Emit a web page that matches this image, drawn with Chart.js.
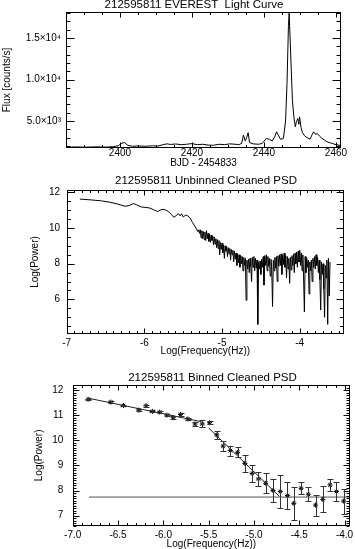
<!DOCTYPE html>
<html>
<head>
<meta charset="utf-8">
<script src="https://cdn.jsdelivr.net/npm/chart.js@4.4.1/dist/chart.umd.min.js"></script>
<style>
  html, body { margin: 0; padding: 0; background: #fff; overflow: hidden; width: 355px; height: 549px; }
  canvas { position: absolute; left: 0; }
</style>
</head>
<body>
<canvas id="lightCurve" width="355" height="171" style="top:0px"></canvas>
<canvas id="psdRaw" width="355" height="191" style="top:170px"></canvas>
<canvas id="psdBinned" width="355" height="184" style="top:365px"></canvas>
<script>
// ---- light curve ----
const lcTime = [2385, 2386.5, 2388, 2390, 2392, 2394, 2396, 2398, 2399.5, 2400.5, 2401.3, 2402.2, 2403.5, 2405, 2407, 2409,
  2410.5, 2412, 2413, 2414, 2415.5, 2417, 2418.5, 2420, 2421.5, 2423, 2424.5, 2426, 2427.5, 2429, 2430.5, 2432, 2433,
  2433.8, 2434.3, 2434.8, 2435.2, 2435.6, 2436, 2437, 2438.5, 2439.5, 2440.7, 2441.5, 2442.3, 2443, 2443.5, 2444, 2444.6,
  2445.4, 2446, 2446.4, 2446.8, 2447.0, 2447.3, 2447.6, 2447.9, 2448.3, 2448.7, 2449.0, 2449.4, 2449.7, 2449.9, 2450.3,
  2450.7, 2451.3, 2452, 2452.8, 2453.3, 2453.8, 2454.3, 2454.8, 2455.4, 2456, 2456.8, 2457.5, 2458.2, 2459, 2460, 2461.4];
const lcFlux = [1900, 1860, 1880, 1850, 1870, 1890, 1860, 1900, 2020, 2330, 2400, 2060, 1960, 1990, 1960, 2010,
  1980, 2150, 2250, 2180, 2230, 2150, 2200, 2280, 2150, 2200, 2100, 2080, 2200, 2150, 2250, 2200, 2150,
  2300, 3300, 2600, 3000, 3600, 2400, 2250, 2200, 2300, 2900, 2800, 2600, 3100, 3700, 3300, 2800,
  2900, 5000, 9500, 16500, 18000, 14500, 11000, 7500, 5500, 4300, 4900, 5300, 4600, 5500, 4200,
  3600, 3200, 3000, 2800, 3300, 3700, 3400, 3500, 3200, 2950, 2700, 2500, 2400, 2300, 2150, 2050];
const lcXTicks = [2400, 2420, 2440, 2460];
const lcXLabels = ['2400', '2420', '2440', '2460'];
const lcYTicks = [5000, 10000, 15000];
const lcYLabels = ['5.0\u00d710\u00b3', '1.0\u00d710\u2074', '1.5\u00d710\u2074'];

// ---- unbinned PSD ----
const psdFreq = [-6.83, -6.70, -6.55, -6.45, -6.35, -6.25, -6.20, -6.14, -6.10, -6.04, -5.98, -5.93, -5.88, -5.83, -5.80,
  -5.76, -5.72, -5.68, -5.65, -5.62, -5.59, -5.56, -5.54, -5.52, -5.50, -5.47, -5.44, -5.41, -5.38, -5.35, -5.33, -5.31, -5.30,
  -5.29, -5.28, -5.27, -5.26, -5.25, -5.24, -5.23, -5.22, -5.21, -5.20, -5.19, -5.18, -5.17, -5.16, -5.15, -5.14, -5.13, -5.12,
  -5.11, -5.10, -5.09, -5.08, -5.07, -5.06, -5.05, -5.04, -5.03, -5.02, -5.01, -5.00, -4.99, -4.98, -4.97, -4.96, -4.95, -4.94,
  -4.93, -4.92, -4.91, -4.90, -4.89, -4.88, -4.87, -4.86, -4.85, -4.84, -4.83, -4.82, -4.81, -4.80, -4.79, -4.78, -4.77, -4.76,
  -4.75, -4.74, -4.73, -4.72, -4.71, -4.70, -4.69, -4.68, -4.67, -4.66, -4.65, -4.64, -4.63, -4.62, -4.61, -4.60, -4.59, -4.58,
  -4.57, -4.56, -4.55, -4.54, -4.53, -4.52, -4.51, -4.50, -4.49, -4.48, -4.47, -4.46, -4.45, -4.44, -4.43, -4.42, -4.41, -4.40,
  -4.39, -4.38, -4.37, -4.36, -4.35, -4.34, -4.33, -4.32, -4.31, -4.30, -4.29, -4.28, -4.27, -4.26, -4.25, -4.24, -4.23, -4.22,
  -4.21, -4.20, -4.19, -4.18, -4.17, -4.16, -4.15, -4.14, -4.13, -4.12, -4.11, -4.10, -4.09, -4.08, -4.07, -4.06, -4.05, -4.04,
  -4.03, -4.02, -4.01, -4.00, -3.99, -3.98, -3.97, -3.96, -3.95, -3.94, -3.93, -3.92, -3.91, -3.90, -3.89, -3.88, -3.87, -3.86,
  -3.85, -3.84, -3.83, -3.82, -3.81, -3.80, -3.79, -3.78, -3.77, -3.76, -3.75, -3.74, -3.73, -3.72, -3.71, -3.70, -3.69, -3.68,
  -3.67, -3.66, -3.65, -3.64, -3.63, -3.62, -3.61];
const psdPower = [11.62, 11.58, 11.52, 11.45, 11.35, 11.22, 11.25, 11.37, 11.30, 11.18, 11.15, 11.12, 11.02, 10.92, 11.00,
  11.05, 11.00, 10.88, 10.75, 10.60, 10.70, 10.80, 10.68, 10.80, 10.62, 10.72, 10.68, 10.55, 10.30, 10.10, 9.95, 9.80, 9.90,
  9.70, 9.90, 9.45, 9.85, 9.40, 9.80, 9.35, 9.78, 9.30, 9.85, 9.40, 9.70, 9.25, 9.65, 9.20, 9.60, 9.30, 9.55,
  9.05, 9.50, 9.10, 9.40, 8.90, 9.35, 8.85, 9.30, 8.50, 9.20, 8.80, 9.15, 8.60, 9.05, 8.30, 9.00, 8.70, 8.95,
  8.40, 8.90, 8.55, 8.85, 8.20, 8.80, 8.50, 8.75, 8.10, 8.70, 8.25, 8.60, 7.90, 8.55, 8.05, 8.50, 7.80, 8.45,
  8.00, 8.40, 7.60, 8.35, 7.90, 8.30, 5.95, 8.20, 7.70, 8.25, 7.50, 8.30, 7.85, 7.00, 8.35, 7.80, 8.40, 7.60,
  8.30, 7.75, 8.20, 4.60, 8.10, 7.70, 8.15, 7.40, 8.25, 7.80, 8.40, 6.80, 8.45, 7.90, 8.50, 7.60, 8.40, 7.85,
  8.30, 7.30, 8.25, 7.70, 5.60, 8.20, 7.60, 8.35, 7.75, 8.40, 7.00, 8.45, 7.85, 8.50, 7.90, 8.55, 7.40, 8.50,
  7.95, 8.60, 7.80, 8.45, 7.20, 8.40, 7.70, 8.30, 6.90, 8.35, 7.65, 8.45, 7.90, 8.55, 7.50, 8.60, 8.00, 8.65,
  7.80, 8.70, 8.10, 8.75, 7.90, 8.60, 7.60, 8.50, 7.20, 5.30, 8.40, 7.50, 8.30, 7.80, 8.20, 6.30, 8.10, 7.60,
  8.20, 7.00, 8.30, 7.80, 8.40, 7.70, 8.50, 7.90, 8.35, 7.50, 8.20, 7.10, 5.40, 8.10, 7.40, 8.00, 6.60, 5.00,
  7.90, 7.20, 8.20, 4.60, 8.30, 6.20, 8.10];
const psdXTicks = [-7, -6, -5, -4];
const psdXLabels = ['-7', '-6', '-5', '-4'];
const psdYTicks = [6, 8, 10, 12];
const psdYLabels = ['6', '8', '10', '12'];

// ---- binned PSD ----
const binFreq = [-6.83, -6.58, -6.44, -6.27, -6.19, -6.12, -6.04, -5.96, -5.89, -5.81, -5.73, -5.65, -5.57, -5.49, -5.41,
  -5.34, -5.26, -5.18, -5.10, -5.02, -4.95, -4.87, -4.79, -4.71, -4.63, -4.56, -4.48, -4.40, -4.32, -4.24, -4.16, -4.09, -4.01];
const binPower = [11.63, 11.52, 11.38, 11.20, 11.38, 11.15, 11.12, 11.00, 10.90, 11.03, 10.85, 10.65, 10.65, 10.70, 10.21,
  9.77, 9.59, 9.52, 9.08, 8.68, 8.46, 8.29, 8.00, 7.96, 7.80, 7.49, 8.09, 7.85, 7.42, 7.65, 8.22, 7.96, 7.58];
const binErr = [0.03, 0.03, 0.03, 0.04, 0.04, 0.04, 0.04, 0.05, 0.05, 0.05, 0.05, 0.07, 0.14, 0.07, 0.16,
  0.20, 0.20, 0.20, 0.35, 0.35, 0.28, 0.40, 0.45, 0.65, 0.55, 0.65, 0.23, 0.28, 0.42, 0.52, 0.22, 0.38, 0.50];
const fitLowFreq = [-6.82, -5.58];
const fitLowPower = [11.67, 10.74];
const fitHighFreq = [-5.50, -4.72];
const fitHighPower = [10.49, 7.77];
const noiseFreq = [-6.82, -3.94];
const noisePower = [7.74, 7.74];
const binXTicks = [-7.0, -6.5, -6.0, -5.5, -5.0, -4.5, -4.0];
const binXLabels = ['-7.0', '-6.5', '-6.0', '-5.5', '-5.0', '-4.5', '-4.0'];
const binYTicks = [7, 8, 9, 10, 11, 12];
const binYLabels = ['7', '8', '9', '10', '11', '12'];

Chart.defaults.font.family = '"Liberation Sans", Arial, Helvetica, sans-serif';
Chart.defaults.font.size = 10;
Chart.defaults.font.lineHeight = 1;
Chart.defaults.color = '#000';

const pts = (xs, ys) => xs.map((x, i) => ({ x: x, y: ys[i] }));

// box with inward ticks on all four sides, plus the panel title
const frame = {
  id: 'frame',
  afterDatasetsDraw(chart, args, o) {
    const { ctx, chartArea: a, scales: { x, y } } = chart;
    ctx.save();
    ctx.strokeStyle = '#000';
    ctx.lineWidth = 1;
    const L = Math.round(a.left) + 0.5, R = Math.round(a.right) - 0.5;
    const T = Math.round(a.top) + 0.5, B = Math.round(a.bottom) - 0.5;
    ctx.strokeRect(L, T, R - L, B - T);
    ctx.beginPath();
    const marks = (scale, minor, major, draw) => {
      const k0 = Math.ceil(scale.min / minor - 1e-6), k1 = Math.floor(scale.max / minor + 1e-6);
      for (let k = k0; k <= k1; k++) {
        const r = k * minor / major;
        const big = Math.abs(r - Math.round(r)) < 1e-6;
        draw(Math.round(scale.getPixelForValue(k * minor)) + 0.5, big);
      }
    };
    marks(x, o.xMinor, o.xMajor, (px, big) => {
      const len = big ? o.xLen[0] : o.xLen[1];
      ctx.moveTo(px, B); ctx.lineTo(px, B - len);
      ctx.moveTo(px, T); ctx.lineTo(px, T + len);
    });
    marks(y, o.yMinor, o.yMajor, (py, big) => {
      const len = big ? o.yLen[0] : o.yLen[1];
      ctx.moveTo(L, py); ctx.lineTo(L + len, py);
      ctx.moveTo(R, py); ctx.lineTo(R - len, py);
    });
    ctx.stroke();
    ctx.fillStyle = '#000';
    ctx.font = '11.5px "Liberation Sans", Arial, sans-serif';
    ctx.textAlign = 'center';
    ctx.textBaseline = 'middle';
    ctx.fillText(o.title, o.titleX, o.titleY);
    ctx.restore();
  }
};

const errorBars = {
  id: 'errorBars',
  afterDatasetsDraw(chart, args, o) {
    if (!o.errors) return;
    const { ctx, scales: { x, y } } = chart;
    ctx.save();
    ctx.strokeStyle = '#333';
    ctx.lineWidth = 1;
    ctx.beginPath();
    o.errors.forEach((e, i) => {
      const px = Math.round(x.getPixelForValue(binFreq[i])) + 0.5;
      const lo = Math.round(y.getPixelForValue(binPower[i] - e)) + 0.5;
      const hi = Math.round(y.getPixelForValue(binPower[i] + e)) + 0.5;
      ctx.moveTo(px, lo); ctx.lineTo(px, hi);
      ctx.moveTo(px - 3, lo); ctx.lineTo(px + 3, lo);
      ctx.moveTo(px - 3, hi); ctx.lineTo(px + 3, hi);
    });
    ctx.stroke();
    ctx.restore();
  }
};

function axis(c) {
  return {
    type: 'linear',
    min: c.min,
    max: c.max,
    grid: { display: false, drawTicks: false },
    border: { display: false },
    afterBuildTicks: s => { s.ticks = c.ticks.map(v => ({ value: v })); },
    afterFit: s => {
      if (c.width !== undefined) s.width = c.width;
      if (c.height !== undefined) s.height = c.height;
      s.paddingLeft = 0; s.paddingRight = 0; s.paddingTop = 0; s.paddingBottom = 0;
    },
    ticks: { autoSkip: false, maxRotation: 0, minRotation: 0, padding: c.pad, color: '#000',
      callback: (v, i) => c.labels[i] },
    title: { display: true, text: c.title, color: '#000', padding: c.titlePad }
  };
}

function line(xs, ys, color) {
  return { data: pts(xs, ys), borderColor: color || '#000', borderWidth: 1, pointRadius: 0, tension: 0, fill: false };
}

function makeChart(id, cfg) {
  return new Chart(document.getElementById(id), {
    type: 'line',
    data: { datasets: cfg.datasets },
    options: {
      responsive: false,
      animation: false,
      events: [],
      layout: { padding: cfg.padding },
      plugins: { legend: { display: false }, tooltip: { enabled: false }, frame: cfg.frame, errorBars: cfg.errorBars || {} },
      scales: { x: cfg.x, y: cfg.y }
    },
    plugins: [frame, errorBars]
  });
}

makeChart('lightCurve', {
  datasets: [line(lcTime, lcFlux)],
  padding: { left: 0, right: 14, top: 12, bottom: 0 },
  frame: { title: '212595811 EVEREST  Light Curve', titleX: 194, titleY: 4.8,
    xMajor: 20, xMinor: 5, yMajor: 5000, yMinor: 1000, xLen: [5, 2.5], yLen: [8, 4] },
  x: axis({ min: 2385, max: 2461.4, ticks: lcXTicks, labels: lcXLabels, height: 23, pad: 0,
    title: 'BJD - 2454833', titlePad: { top: 0, bottom: 2.5 } }),
  y: axis({ min: 1750, max: 18130, ticks: lcYTicks, labels: lcYLabels, width: 66, pad: 5,
    title: 'Flux [counts/s]', titlePad: { top: 2, bottom: 0 } })
});

makeChart('psdRaw', {
  datasets: [line(psdFreq, psdPower, '#000')],
  padding: { left: 0, right: 11, top: 20, bottom: 0 },
  frame: { title: '212595811 Unbinned Cleaned PSD', titleX: 206, titleY: 11,
    xMajor: 1, xMinor: 0.1, yMajor: 2, yMinor: 0.5, xLen: [5, 2.5], yLen: [7, 3.5] },
  x: axis({ min: -7.0, max: -3.43, ticks: psdXTicks, labels: psdXLabels, height: 27, pad: 4,
    title: 'Log(Frequency(Hz))', titlePad: { top: 0, bottom: 4.3 } }),
  y: axis({ min: 4.06, max: 12.13, ticks: psdYTicks, labels: psdYLabels, width: 66.7, pad: 6.7,
    title: 'Log(Power)', titlePad: { top: 30, bottom: 0 } })
});

makeChart('psdBinned', {
  datasets: [
    { data: pts(binFreq, binPower), showLine: false, pointStyle: 'star', pointRadius: 2.5,
      borderColor: '#000', backgroundColor: '#000', borderWidth: 1 },
    line(fitLowFreq, fitLowPower, '#222'),
    line(fitHighFreq, fitHighPower, '#222'),
    line(noiseFreq, noisePower, '#555')
  ],
  padding: { left: 0, right: 1.7, top: 20, bottom: 0 },
  errorBars: { errors: binErr },
  frame: { title: '212595811 Binned Cleaned PSD', titleX: 212.5, titleY: 13,
    xMajor: 0.5, xMinor: 0.1, yMajor: 1, yMinor: 0.1, xLen: [5, 2.5], yLen: [6, 3] },
  x: axis({ min: -7.0, max: -3.94, ticks: binXTicks, labels: binXLabels, height: 23.3, pad: 5,
    title: 'Log(Frequency(Hz))', titlePad: { top: 0, bottom: 0 } }),
  y: axis({ min: 6.6, max: 12.2, ticks: binYTicks, labels: binYLabels, width: 72.7, pad: 9.4,
    title: 'Log(Power)', titlePad: { top: 34.3, bottom: 0 } })
});
</script>
</body>
</html>
